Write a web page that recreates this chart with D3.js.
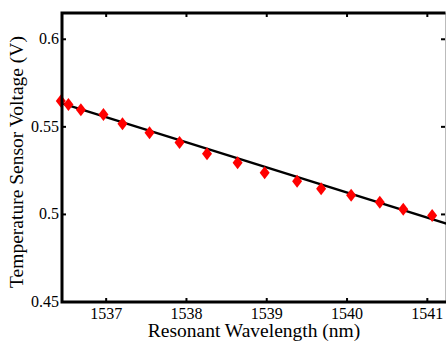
<!DOCTYPE html>
<html>
<head>
<meta charset="utf-8">
<script src="https://cdn.jsdelivr.net/npm/d3@7"></script>
</head>
<body style="margin:0">
<div id="chart"></div>
<script>
// measured points
const wavelength = [1536.435, 1536.53, 1536.685, 1536.966, 1537.203, 1537.54, 1537.914, 1538.256,
                    1538.637, 1538.974, 1539.378, 1539.677, 1540.051, 1540.408, 1540.70, 1541.06];
const voltage = [0.5647, 0.5628, 0.5597, 0.5570, 0.5518, 0.5467, 0.5410, 0.5347,
                 0.5295, 0.5238, 0.5189, 0.5147, 0.5110, 0.5070, 0.5030, 0.4994];

// linear fit endpoints
const fitX = [1536.45, 1541.24];
const fitY = [0.5634, 0.4947];

const xTicks = [1537, 1538, 1539, 1540, 1541];
const yTicks = [0.45, 0.5, 0.55, 0.6];

const width = 446, height = 341;
const margin = { top: 13, right: 1, bottom: 39, left: 62 };
const serif = "Liberation Serif";

const svg = d3.select("#chart").append("svg")
    .attr("width", width)
    .attr("height", height);

const x = d3.scaleLinear().domain([1536.45, 1541.22]).range([margin.left, width - margin.right]);
const y = d3.scaleLinear().domain([0.45, 0.615]).range([height - margin.bottom, margin.top]);

const tickLen = 4;

// right edge (cropped, faint)
svg.append("line")
    .attr("x1", width - 0.5).attr("x2", width - 0.5)
    .attr("y1", margin.top).attr("y2", height - margin.bottom)
    .attr("stroke", "#bbb").attr("stroke-width", 1);

// ticks on all four sides
const tickG = svg.append("g").attr("stroke", "#000").attr("stroke-width", 2);
xTicks.forEach(t => {
    tickG.append("line").attr("x1", x(t)).attr("x2", x(t))
        .attr("y1", y.range()[0]).attr("y2", y.range()[0] - tickLen);
    tickG.append("line").attr("x1", x(t)).attr("x2", x(t))
        .attr("y1", y.range()[1]).attr("y2", y.range()[1] + tickLen);
});
yTicks.forEach(t => {
    tickG.append("line").attr("x1", x.range()[0]).attr("x2", x.range()[0] + tickLen)
        .attr("y1", y(t)).attr("y2", y(t));
    tickG.append("line").attr("x1", x.range()[1]).attr("x2", x.range()[1] - tickLen)
        .attr("y1", y(t)).attr("y2", y(t));
});

// fit line
svg.append("path")
    .datum(fitX.map((v, i) => [v, fitY[i]]))
    .attr("fill", "none")
    .attr("stroke", "#000")
    .attr("stroke-width", 2.2)
    .attr("d", d3.line().x(d => x(d[0])).y(d => y(d[1])));

// diamonds
svg.append("g").selectAll("path")
    .data(wavelength.map((v, i) => [v, voltage[i]]))
    .join("path")
    .attr("transform", d => `translate(${x(d[0])},${y(d[1])})`)
    .attr("d", "M0,-6.5L5,0L0,6.5L-5,0Z")
    .attr("fill", "#f00");

// frame: thick left, bottom, top
svg.append("path")
    .attr("d", `M${width - 0.5},${y.range()[1]}H${x.range()[0]}V${y.range()[0]}H${width}`)
    .attr("fill", "none")
    .attr("stroke", "#000")
    .attr("stroke-width", 3);

// tick labels
svg.selectAll("text.xt")
    .data(xTicks)
    .join("text")
    .attr("class", "xt")
    .attr("x", d => x(d))
    .attr("y", 319)
    .attr("text-anchor", "middle")
    .attr("font-size", 16)
    .style("font-family", `"${serif}"`)
    .text(d => d);

svg.selectAll("text.yt")
    .data(yTicks)
    .join("text")
    .attr("class", "yt")
    .attr("x", margin.left - 3)
    .attr("y", d => y(d) + 5)
    .attr("text-anchor", "end")
    .attr("font-size", 16)
    .style("font-family", `"${serif}"`)
    .text(d => d);

// axis titles
svg.append("text")
    .attr("x", 254)
    .attr("y", 337)
    .attr("text-anchor", "middle")
    .attr("font-size", 19.5)
    .style("font-family", `"${serif}"`)
    .text("Resonant Wavelength (nm)");

svg.append("text")
    .attr("transform", "translate(23,162) rotate(-90)")
    .attr("text-anchor", "middle")
    .attr("font-size", 19.5)
    .style("font-family", `"${serif}"`)
    .text("Temperature Sensor Voltage (V)");
</script>
</body>
</html>
